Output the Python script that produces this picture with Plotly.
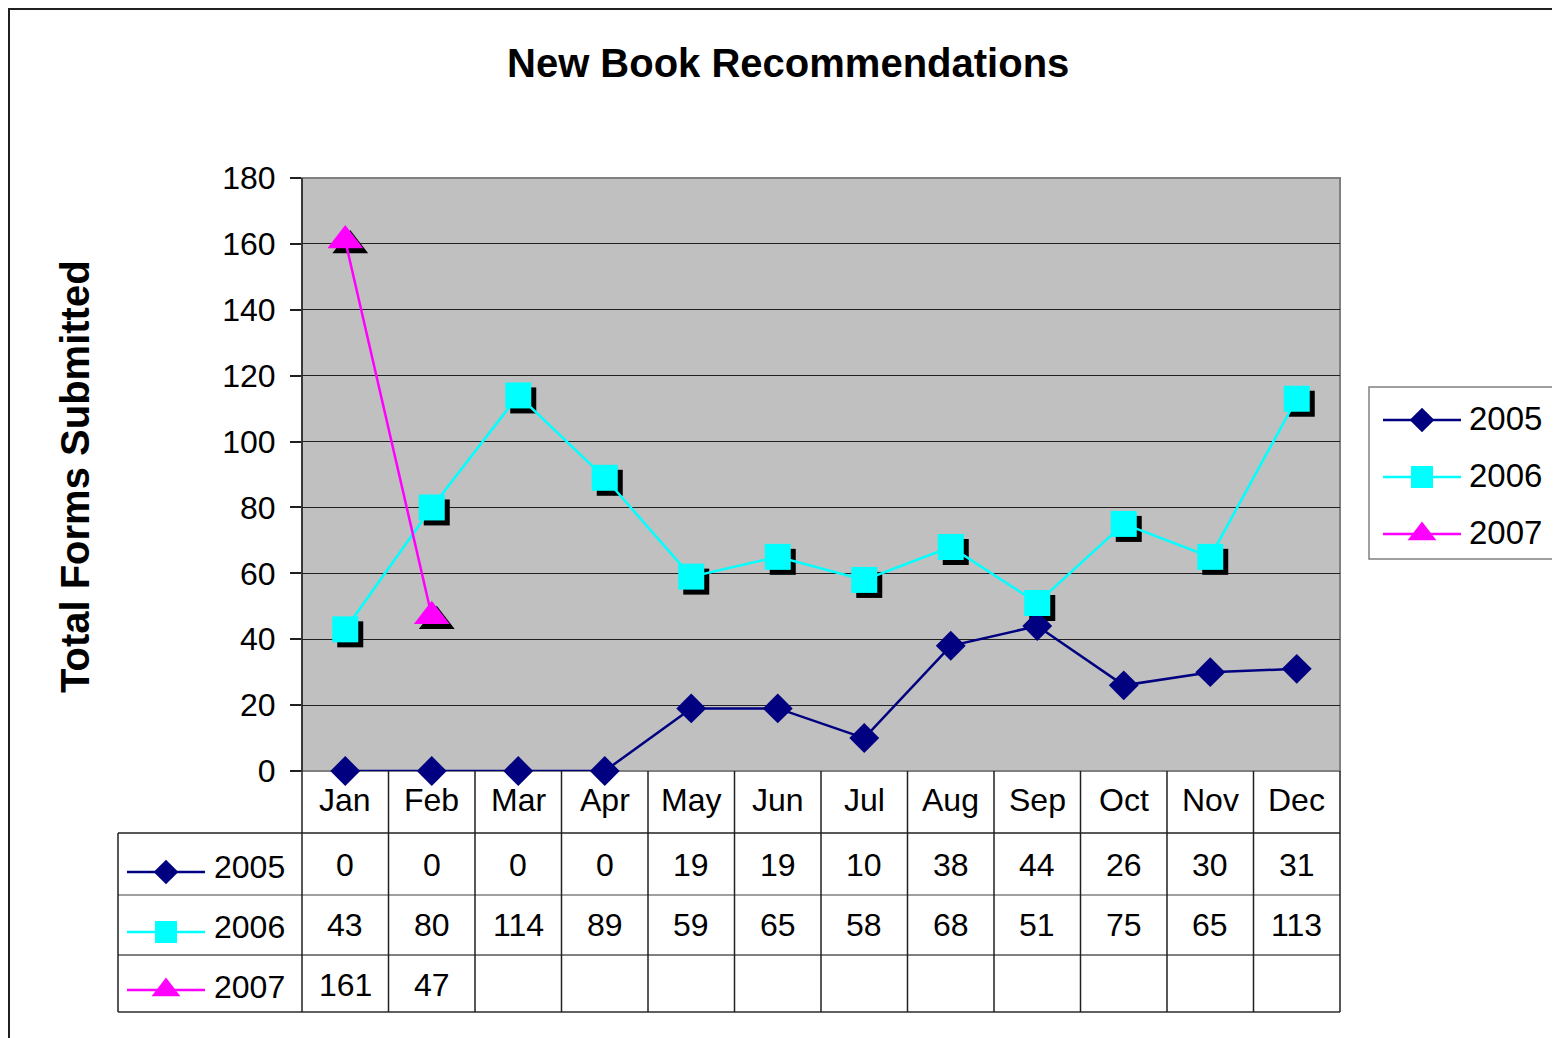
import plotly.graph_objects as go

# ---------------- data ----------------
months = ["Jan", "Feb", "Mar", "Apr", "May", "Jun", "Jul", "Aug", "Sep", "Oct", "Nov", "Dec"]
series_names = ["2005", "2006", "2007"]
vals_2005 = [0, 0, 0, 0, 19, 19, 10, 38, 44, 26, 30, 31]
vals_2006 = [43, 80, 114, 89, 59, 65, 58, 68, 51, 75, 65, 113]
vals_2007 = [161, 47, None, None, None, None, None, None, None, None, None, None]
y_ticks = [0, 20, 40, 60, 80, 100, 120, 140, 160, 180]

# ---------------- geometry (screen pixels of the reference) ----------------
W, H = 1560, 1038
OFF = 8  # page body margin
PL, PR, PT, PB = 302, 1340, 178, 771
YMAX = 180
FONT = "Liberation Sans, Arial, sans-serif"
SH = 5  # shadow offset px


def px(x):
    return (x - OFF) / W


def py(y):
    return 1 - (y - OFF) / H


NAVY, CYAN, MAG = "#000080", "#00FFFF", "#FF00FF"
n = len(months)
cw = (PR - PL) / n
xr = [-0.5, n - 0.5]
dx = SH / cw
dy = SH * YMAX / (PB - PT)

fig = go.Figure()

SQ, DI, TR = 26, 23, 31

# shadows (on shifted overlay axes)
for vals, sym, size in [(vals_2006, "square", SQ), (vals_2007, "triangle-up", TR)]:
    fig.add_trace(go.Scatter(x=list(range(n)), y=vals, mode="markers", xaxis="x2", yaxis="y2",
                             cliponaxis=False,
                             marker=dict(symbol=sym, size=size, color="black", line=dict(width=0)),
                             hoverinfo="skip"))

# real series
styles = [
    (vals_2005, NAVY, "diamond", DI),
    (vals_2006, CYAN, "square", SQ),
    (vals_2007, MAG, "triangle-up", TR),
]
for name, (vals, col, sym, size) in zip(series_names, styles):
    fig.add_trace(go.Scatter(x=list(range(n)), y=vals, mode="lines+markers", name=name,
                             xaxis="x4", yaxis="y4", cliponaxis=False,
                             line=dict(color=col, width=2.5),
                             marker=dict(symbol=sym, size=size, color=col, line=dict(width=0))))

# legend keys (pixel axes)
key_sizes = [19, 22, 25]


def add_key(x0, x1, y, col, sym, size):
    fig.add_trace(go.Scatter(x=[x0, x1], y=[y, y], mode="lines", xaxis="x3", yaxis="y3",
                             line=dict(color=col, width=2.5), hoverinfo="skip"))
    fig.add_trace(go.Scatter(x=[(x0 + x1) / 2], y=[y], mode="markers", xaxis="x3", yaxis="y3",
                             marker=dict(symbol=sym, size=size, color=col, line=dict(width=0)),
                             hoverinfo="skip"))


legend_rows_y = [420, 477, 534]
table_rows_y = [865, 925, 985]
key_offsets = [7, 7, 5]
annotations = []
for i, (name, (vals, col, sym, size)) in enumerate(zip(series_names, styles)):
    add_key(1383, 1461, legend_rows_y[i], col, sym, key_sizes[i])
    annotations.append(dict(x=px(1467), y=py(legend_rows_y[i] - 2), xref="paper", yref="paper",
                            text=name, showarrow=False, xanchor="left", yanchor="middle",
                            font=dict(size=33, color="black", family=FONT)))
    add_key(127, 205, table_rows_y[i] + key_offsets[i], col, sym, key_sizes[i])
    annotations.append(dict(x=px(212), y=py(table_rows_y[i] + 2), xref="paper", yref="paper",
                            text=name, showarrow=False, xanchor="left", yanchor="middle",
                            font=dict(size=32, color="black", family=FONT)))
    for j, v in enumerate(vals):
        if v is None:
            continue
        annotations.append(dict(x=j, y=py(table_rows_y[i]), xref="x", yref="paper",
                                text=str(v), showarrow=False, xanchor="center", yanchor="middle",
                                font=dict(size=32, color="black", family=FONT)))

for j, m in enumerate(months):
    annotations.append(dict(x=j, y=py(800), xref="x", yref="paper", text=m, showarrow=False,
                            xanchor="center", yanchor="middle",
                            font=dict(size=32, color="black", family=FONT)))

annotations.append(dict(x=px(788), y=py(63), xref="paper", yref="paper",
                        text="<b>New Book Recommendations</b>", showarrow=False,
                        xanchor="center", yanchor="middle",
                        font=dict(size=40, color="black", family=FONT)))
annotations.append(dict(x=px(75), y=py(477), xref="paper", yref="paper",
                        text="<b>Total Forms Submitted</b>", showarrow=False, textangle=-90,
                        xanchor="center", yanchor="middle",
                        font=dict(size=40, color="black", family=FONT)))

# ---------------- shapes ----------------
shapes = []
shapes.append(dict(type="rect", xref="paper", yref="paper", x0=px(PL), x1=px(PR), y0=py(PB), y1=py(PT),
                   fillcolor="#C0C0C0", line=dict(width=0), layer="below"))
shapes.append(dict(type="rect", xref="paper", yref="paper", x0=px(PL), x1=px(PR), y0=py(PB), y1=py(PT),
                   fillcolor="rgba(0,0,0,0)", line=dict(color="#808080", width=2), layer="below"))
shapes.append(dict(type="line", xref="paper", yref="paper", x0=px(PL), x1=px(PL), y0=py(PB), y1=py(PT),
                   line=dict(color="#202020", width=1.5)))
# outer chart border (top edge placed at the figure's top edge)
shapes.append(dict(type="rect", xref="paper", yref="paper", x0=px(9), x1=px(W + 40), y0=py(H + 40), y1=py(OFF + 1),
                   fillcolor="rgba(0,0,0,0)", line=dict(color="#202020", width=2)))

TB_L, ROW1, ROW2, ROW3, TB_B = 118, 833, 895, 955, 1012


def hline(y, x0, x1, color="#202020", w=1.5):
    shapes.append(dict(type="line", xref="paper", yref="paper", x0=px(x0), x1=px(x1), y0=py(y), y1=py(y),
                       line=dict(color=color, width=w)))


def vline(x, y0, y1, color="#202020", w=1.5):
    shapes.append(dict(type="line", xref="paper", yref="paper", x0=px(x), x1=px(x), y0=py(y0), y1=py(y1),
                       line=dict(color=color, width=w)))


hline(ROW1, TB_L, PR)
hline(ROW2, TB_L, PR, "#808080", 1.5)
hline(ROW3, TB_L, PR, "#808080", 2)
hline(TB_B, TB_L, PR, "#606060", 2)
vline(TB_L, ROW1, TB_B)
for k in range(n + 1):
    vline(PL + k * cw, PB, TB_B)

shapes.append(dict(type="rect", xref="paper", yref="paper", x0=px(1369), x1=px(1553), y0=py(559), y1=py(387),
                   line=dict(color="#808080", width=1.5), fillcolor="rgba(0,0,0,0)"))

hidden = dict(visible=False, automargin=False)
fig.update_layout(
    template="none",
    width=W, height=H, autosize=False,
    margin=dict(l=0, r=0, t=0, b=0, pad=0),
    paper_bgcolor="white", plot_bgcolor="rgba(0,0,0,0)",
    showlegend=False,
    font=dict(family=FONT, color="black"),
    xaxis=dict(domain=[px(PL), px(PR)], range=xr, showticklabels=False, showgrid=False,
               zeroline=False, ticks="", showline=False, anchor="y", automargin=False),
    yaxis=dict(domain=[py(PB), py(PT)], range=[0, YMAX], tickvals=y_ticks, showgrid=True,
               gridcolor="#202020", gridwidth=1, zeroline=False, ticks="outside", ticklen=11,
               tickcolor="#202020", tickwidth=1.5, showline=False, anchor="x", automargin=False,
               tickfont=dict(size=32, color="black", family=FONT), ticklabelstandoff=8),
    xaxis2=dict(overlaying="x", range=[xr[0] - dx, xr[1] - dx], anchor="y2", **hidden),
    yaxis2=dict(overlaying="y", range=[dy, YMAX + dy], anchor="x2", **hidden),
    xaxis4=dict(overlaying="x", range=xr, anchor="y4", **hidden),
    yaxis4=dict(overlaying="y", range=[0, YMAX], anchor="x4", **hidden),
    xaxis3=dict(domain=[0, 1], range=[OFF, W + OFF], anchor="y3", **hidden),
    yaxis3=dict(domain=[0, 1], range=[H + OFF, OFF], anchor="x3", **hidden),
    shapes=shapes,
    annotations=annotations,
)

fig.write_html("out.html")
